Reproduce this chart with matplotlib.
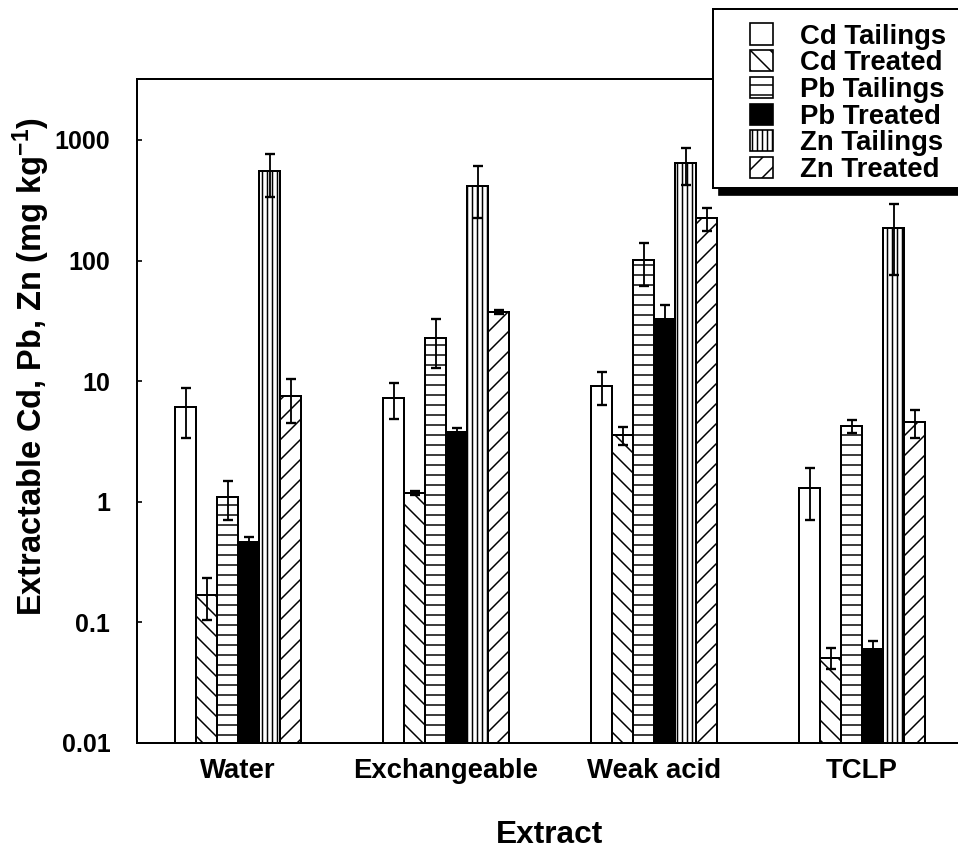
import numpy as np
import matplotlib
matplotlib.use('Agg')
import matplotlib.pyplot as plt
from matplotlib.patches import Rectangle

plt.rcParams['font.family'] = ['Liberation Sans', 'DejaVu Sans']
plt.rcParams['font.weight'] = 'bold'
plt.rcParams['mathtext.fontset'] = 'custom'
plt.rcParams['mathtext.rm'] = 'Liberation Sans:bold'
plt.rcParams['mathtext.it'] = 'Liberation Sans:bold'
plt.rcParams['mathtext.bf'] = 'Liberation Sans:bold'
plt.rcParams['hatch.linewidth'] = 0.9

# data (mg/kg), mean and +/- error
extracts = ['Water', 'Exchangeable', 'Weak acid', 'TCLP']
series = ['Cd Tailings', 'Cd Treated', 'Pb Tailings', 'Pb Treated', 'Zn Tailings', 'Zn Treated']

cd_tailings = [6.1, 7.3, 9.1, 1.3]
cd_tailings_err = [2.7, 2.4, 2.8, 0.6]
cd_treated = [0.17, 1.18, 3.55, 0.051]
cd_treated_err = [0.065, 0.05, 0.6, 0.01]
pb_tailings = [1.10, 22.8, 101, 4.25]
pb_tailings_err = [0.4, 10, 40, 0.5]
pb_treated = [0.46, 3.8, 33, 0.060]
pb_treated_err = [0.05, 0.3, 9.5, 0.01]
zn_tailings = [553, 415, 644, 186]
zn_tailings_err = [215, 190, 220, 110]
zn_treated = [7.5, 37.5, 225, 4.6]
zn_treated_err = [3.0, 1.5, 50, 1.2]

yticks = [0.01, 0.1, 1, 10, 100, 1000]
ytick_labels = ['0.01', '0.1', '1', '10', '100', '1000']

values = [cd_tailings, cd_treated, pb_tailings, pb_treated, zn_tailings, zn_treated]
errors = [cd_tailings_err, cd_treated_err, pb_tailings_err, pb_treated_err,
          zn_tailings_err, zn_treated_err]
faces = ['white', 'white', 'white', 'black', 'white', 'white']
hatches = [None, '\\\\', '--', None, '||||', '//']

W, H = 958, 851
fig = plt.figure(figsize=(W / 120, H / 120), dpi=120)


def fig_rect(x0, y0, x1, y1):
    # pixel box (top-left origin) -> figure fraction
    return (x0 / W, 1 - y1 / H), (x1 - x0) / W, (y1 - y0) / H


ax = fig.add_axes([137 / W, (H - 743) / H, (968 - 137) / W, (743 - 79) / H])
ax.set_yscale('log')

x = np.arange(len(extracts))
width = 0.101
for i, (vals, errs) in enumerate(zip(values, errors)):
    pos = x + (i - 2.5) * width
    ax.bar(pos, vals, width, color=faces[i], edgecolor='black', linewidth=1.2,
           hatch=hatches[i], zorder=2)
    ax.errorbar(pos, vals, yerr=errs, fmt='none', ecolor='black', elinewidth=1.1,
                capsize=3, capthick=1.4, zorder=3)

ax.set_xlim(-0.486, -0.486 + (968 - 137) / 208)
ax.set_ylim(0.01, 3200)
ax.set_yticks(yticks, ytick_labels)
ax.minorticks_off()
ax.set_xticks(x, extracts)
ax.tick_params(axis='y', direction='in', length=3, width=1, pad=16, labelsize=15)
ax.tick_params(axis='x', length=0, pad=9, labelsize=16.5)
for side in ['left', 'bottom', 'top']:
    ax.spines[side].set_linewidth(1.2)
ax.spines['right'].set_visible(False)

fig.text(31 / W, 1 - 367 / H, 'Extractable Cd, Pb, Zn (mg kg$^{-1}$)',
         rotation=90, ha='center', va='center', fontsize=19.5, fontweight='bold')
fig.text(550 / W, 1 - 843 / H, 'Extract', ha='center', va='baseline',
         fontsize=19, fontweight='bold')

# legend box with a solid drop shadow
xy, w, h = fig_rect(719, 16, 1000, 195)
fig.add_artist(Rectangle(xy, w, h, transform=fig.transFigure, facecolor='black',
                         edgecolor='black', zorder=5))
xy, w, h = fig_rect(713, 9, 994, 188)
fig.add_artist(Rectangle(xy, w, h, transform=fig.transFigure, facecolor='white',
                         edgecolor='black', linewidth=1.2, zorder=6))
for i, name in enumerate(series):
    yc = 34 + i * 26.7
    xy, w, h = fig_rect(750, yc - 10.5, 773, yc + 10.5)
    fig.add_artist(Rectangle(xy, w, h, transform=fig.transFigure, facecolor=faces[i],
                             edgecolor='black', linewidth=1.0, hatch=hatches[i], zorder=7))
    fig.text(800 / W, 1 - (yc + 9.5) / H, name, ha='left', va='baseline',
             fontsize=16.5, fontweight='bold', zorder=8)

fig.savefig('out.png', dpi=120)
